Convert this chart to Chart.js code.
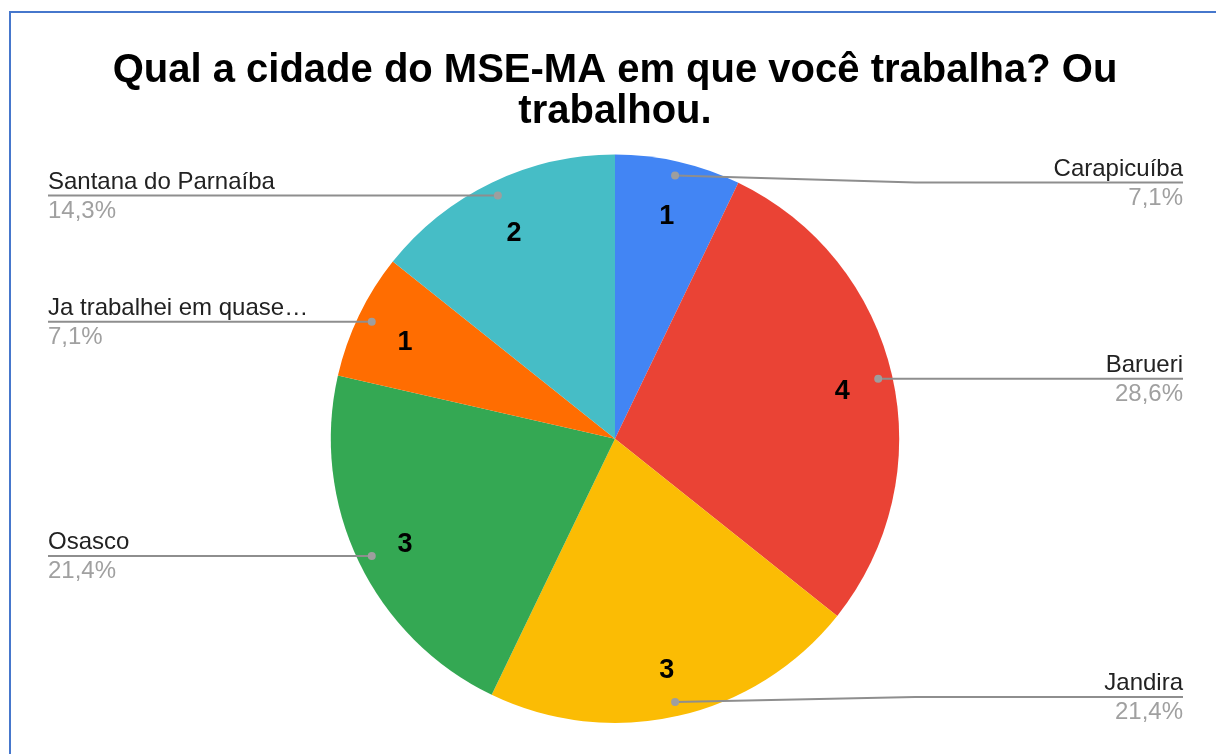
<!DOCTYPE html>
<html>
<head>
<meta charset="utf-8">
<script src="https://cdn.jsdelivr.net/npm/chart.js@4.4.1/dist/chart.umd.min.js"></script>
<style>
  html, body { margin: 0; padding: 0; background: #fff; overflow: hidden; }
  #wrap { position: relative; width: 1216px; height: 754px; overflow: hidden; }
  #frame { position: absolute; left: 9px; top: 11px; width: 1400px; height: 1000px; border: 2px solid #4677CC; box-sizing: border-box; pointer-events: none; }
  canvas { position: absolute; left: 0; top: 0; }
</style>
</head>
<body>
<div id="wrap">
  <canvas id="c" width="1216" height="754"></canvas>
  <div id="frame"></div>
</div>
<script>
const titleLines = ['Qual a cidade do MSE-MA em que você trabalha? Ou', 'trabalhou.'];
const categories = ['Carapicuíba', 'Barueri', 'Jandira', 'Osasco', 'Ja trabalhei em quase…', 'Santana do Parnaíba'];
const counts = [1, 4, 3, 3, 1, 2];
const sliceColors = ['#4285F4', '#EA4335', '#FBBC04', '#34A853', '#FF6D01', '#46BDC6'];

const FONT = '"Liberation Sans", Arial, Helvetica, sans-serif';

const calloutPlugin = {
  id: 'callouts',
  afterDatasetsDraw(chart) {
    const ctx = chart.ctx;
    const meta = chart.getDatasetMeta(0);
    const data = chart.data.datasets[0].data;
    const total = data.reduce((a, b) => a + b, 0);
    const area = chart.chartArea;
    const minY = area.top + 28, maxY = area.bottom - 26;
    const leftX = 48, rightX = 1183;
    ctx.save();
    meta.data.forEach((arc, i) => {
      const p = arc.getProps(['x', 'y', 'startAngle', 'endAngle', 'outerRadius'], true);
      const mid = (p.startAngle + p.endAngle) / 2;
      const R = p.outerRadius;
      const cos = Math.cos(mid), sin = Math.sin(mid);
      // value label inside slice
      ctx.fillStyle = '#000';
      ctx.font = 'bold 27px ' + FONT;
      ctx.textAlign = 'center';
      ctx.textBaseline = 'alphabetic';
      ctx.fillText(String(data[i]), p.x + cos * R * 0.82, p.y + sin * R * 0.82 + 12);

      // leader line
      const dx = p.x + cos * R * 0.95, dy = p.y + sin * R * 0.95;
      const right = cos >= 0;
      const ly = Math.min(maxY, Math.max(minY, dy));
      const bendX = right ? p.x + R + 16 : p.x - R - 16;
      ctx.strokeStyle = '#8e8e8e';
      ctx.lineWidth = 2;
      ctx.beginPath();
      ctx.moveTo(dx, dy);
      if (right) {
        if (bendX > dx) ctx.lineTo(bendX, ly);
        ctx.lineTo(rightX, ly);
      } else {
        if (bendX < dx) ctx.lineTo(bendX, ly);
        ctx.lineTo(leftX, ly);
      }
      ctx.stroke();
      ctx.fillStyle = '#9e9e9e';
      ctx.beginPath();
      ctx.arc(dx, dy, 4, 0, Math.PI * 2);
      ctx.fill();

      // texts
      const pct = (data[i] / total * 100).toFixed(1).replace('.', ',') + '%';
      ctx.textAlign = right ? 'right' : 'left';
      ctx.textBaseline = 'alphabetic';
      ctx.font = '24px ' + FONT;
      const tx = right ? rightX : leftX;
      ctx.fillStyle = '#222222';
      ctx.fillText(chart.data.labels[i], tx, ly - 7);
      ctx.fillStyle = '#a0a0a0';
      ctx.fillText(pct, tx, ly + 22);
    });
    ctx.restore();
  }
};

new Chart(document.getElementById('c'), {
  type: 'pie',
  data: {
    labels: categories,
    datasets: [{
      data: counts,
      backgroundColor: sliceColors,
      borderWidth: 0
    }]
  },
  options: {
    responsive: false,
    animation: false,
    devicePixelRatio: 1,
    layout: { padding: { top: 0, bottom: 31, left: 100, right: 86 } },
    plugins: {
      legend: { display: false },
      tooltip: { enabled: false },
      title: {
        display: true,
        text: titleLines,
        color: '#000',
        font: { family: FONT, size: 40, weight: 'bold', lineHeight: 1.02 },
        padding: { top: 51, bottom: 22 }
      }
    }
  },
  plugins: [calloutPlugin]
});
</script>
</body>
</html>
